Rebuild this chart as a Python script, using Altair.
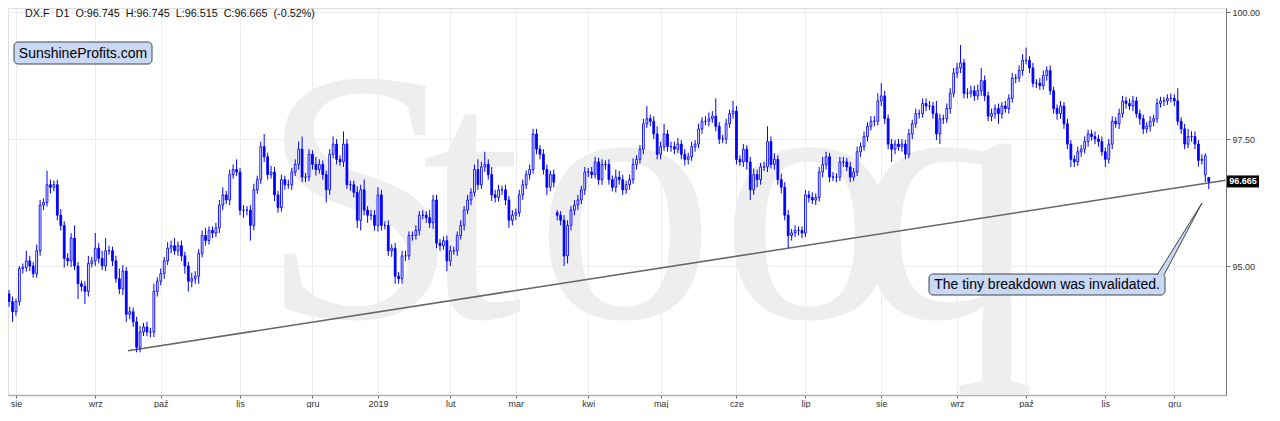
import altair as alt
import pandas as pd

# ---------------- data ----------------
closes = [
    94.30, 94.10, 94.30, 94.95, 94.97, 95.10, 95.00, 94.85, 95.30, 96.20,
    96.25, 96.60, 96.55, 96.60, 96.00, 95.80, 95.15, 95.10, 95.55, 95.00,
    94.65, 94.60, 94.50, 95.05, 95.10, 95.35, 95.15, 95.00, 95.30, 95.30,
    95.10, 94.75, 94.55, 94.90, 94.05, 94.10, 93.90, 93.40, 93.70, 93.80,
    93.70, 93.70, 94.50, 94.70, 94.85, 95.10, 95.35, 95.40, 95.30, 95.40,
    95.20, 95.00, 94.70, 94.75, 94.80, 95.25, 95.60, 95.50, 95.70, 95.65,
    95.75, 96.20, 96.40, 96.30, 96.80, 96.90, 96.85, 96.10, 96.10, 96.10,
    95.80, 96.50, 96.70, 97.35, 97.15, 96.80, 96.85, 96.40, 96.15, 96.70,
    96.60, 96.60, 96.85, 97.00, 97.30, 96.75, 96.75, 97.20, 97.00, 96.90,
    97.00, 96.80, 96.50, 97.20, 97.40, 97.10, 97.05, 97.40, 96.60, 96.60,
    96.45, 95.90, 96.50, 96.10, 96.00, 96.00, 95.80, 96.40, 95.80, 95.80,
    95.30, 95.35, 94.80, 94.75, 95.20, 95.20, 95.60, 95.60, 95.70, 96.00,
    96.00, 95.95, 95.85, 96.30, 95.45, 95.40, 95.50, 95.10, 95.30, 95.30,
    95.60, 95.80, 96.10, 96.30, 96.45, 96.90, 96.60, 96.95, 97.00, 96.80,
    96.40, 96.35, 96.50, 96.50, 96.30, 95.90, 96.00, 96.05, 96.40, 96.60,
    96.80, 96.90, 97.60, 97.30, 97.20, 96.90, 96.55, 96.80, 96.65, 96.00,
    95.90, 95.20, 95.80, 96.10, 96.20, 96.30, 96.50, 96.85, 96.85, 96.80,
    97.05, 96.70, 97.00, 97.00, 96.70, 96.55, 96.75, 96.70, 96.50, 96.60,
    96.70, 97.00, 97.10, 97.30, 97.80, 97.90, 97.85, 97.60, 97.20, 97.35,
    97.60, 97.35, 97.35, 97.30, 97.40, 97.20, 97.10, 97.15, 97.35, 97.40,
    97.70, 97.85, 97.85, 97.90, 97.95, 97.75, 97.50, 97.50, 97.80, 98.00,
    98.05, 97.10, 97.05, 97.30, 97.05, 96.50, 96.80, 96.70, 96.95, 96.95,
    97.45, 97.00, 97.10, 96.70, 96.55, 96.00, 95.60, 95.65, 95.70, 95.70,
    95.65, 96.40, 96.35, 96.30, 96.35, 96.85, 97.00, 97.15, 96.75, 96.75,
    96.75, 97.05, 97.05, 96.95, 96.75, 96.85, 97.25, 97.35, 97.55, 97.75,
    97.85, 97.85, 98.25, 98.35, 97.90, 97.40, 97.30, 97.40, 97.35, 97.40,
    97.20, 97.60, 97.80, 98.00, 98.00, 98.20, 98.15, 98.15, 98.00, 97.60,
    97.90, 97.90, 98.10, 98.40, 98.80, 98.90, 99.00, 98.40, 98.40, 98.45,
    98.35, 98.45, 98.65, 98.35, 97.95, 98.00, 98.10, 98.00, 98.15, 98.10,
    98.30, 98.70, 98.70, 98.85, 99.05, 99.05, 98.90, 98.60, 98.60, 98.55,
    98.75, 98.85, 98.45, 98.10, 98.00, 98.15, 97.80, 97.40, 97.10, 97.05,
    97.25, 97.30, 97.45, 97.60, 97.55, 97.50, 97.45, 97.25, 97.10, 97.40,
    97.85, 97.80, 98.00, 98.25, 98.20, 98.15, 98.25, 98.00, 97.90, 97.70,
    97.75, 97.85, 97.90, 98.20, 98.25, 98.25, 98.30, 98.30, 98.25, 97.85,
    97.70, 97.40, 97.55, 97.55, 97.40, 97.08, 97.10, 97.17, 96.665,
]

# upper / lower shadows beyond the body, in hundredths
up_wick = [
    8, 10, 6, 5, 8, 20, 10, 8, 12, 10, 8, 28, 10, 8, 10, 12, 8, 10, 10, 25,
    8, 6, 10, 15, 8, 30, 10, 15, 25, 10, 8, 10, 20, 12, 8, 10, 8, 10, 12, 8,
    10, 8, 15, 8, 10, 8, 12, 10, 15, 8, 10, 8, 8, 12, 10, 8, 10, 15, 8, 8,
    10, 10, 15, 8, 10, 10, 20, 8, 10, 8, 10, 12, 8, 10, 25, 8, 12, 10, 8, 10,
    8, 10, 8, 10, 15, 25, 8, 10, 8, 15, 10, 8, 8, 10, 15, 10, 8, 25, 10, 8,
    8, 12, 10, 20, 8, 10, 10, 15, 10, 8, 10, 8, 10, 8, 10, 10, 8, 8, 10, 8,
    10, 8, 15, 10, 10, 8, 8, 10, 10, 8, 8, 10, 8, 10, 8, 10, 20, 10, 25, 10,
    15, 10, 10, 8, 10, 8, 10, 8, 10, 10, 8, 10, 10, 10, 8, 10, 10, 8, 10, 5,
    8, 10, 10, 8, 10, 10, 8, 10, 8, 10, 10, 8, 10, 8, 10, 8, 15, 12, 10, 8,
    10, 12, 8, 8, 10, 25, 8, 10, 15, 10, 20, 8, 10, 10, 12, 8, 10, 8, 10, 8,
    10, 8, 10, 12, 10, 35, 8, 8, 10, 8, 20, 10, 8, 10, 8, 10, 12, 10, 8, 10,
    30, 10, 12, 8, 12, 10, 10, 8, 10, 8, 8, 10, 8, 10, 8, 10, 15, 10, 8, 10,
    8, 10, 10, 8, 10, 8, 10, 8, 10, 8, 10, 10, 15, 25, 10, 8, 10, 8, 10, 10,
    8, 10, 8, 10, 8, 10, 10, 10, 8, 25, 10, 8, 10, 10, 10, 10, 35, 8, 10, 10,
    10, 12, 25, 10, 8, 10, 8, 10, 8, 10, 8, 10, 8, 10, 12, 25, 8, 10, 8, 10,
    10, 8, 10, 8, 8, 10, 8, 10, 8, 8, 10, 8, 10, 8, 8, 10, 8, 10, 8, 10,
    10, 8, 10, 10, 8, 10, 10, 8, 8, 8, 8, 10, 8, 10, 8, 8, 8, 10, 8, 25,
    8, 10, 15, 10, 10, 8, 10, 5, 0,
]
dn_wick = [
    10, 20, 8, 8, 10, 8, 10, 8, 8, 10, 10, 8, 12, 8, 10, 10, 18, 10, 12, 8,
    30, 10, 25, 10, 8, 10, 10, 8, 10, 8, 10, 8, 10, 12, 15, 10, 10, 10, 10, 8,
    8, 10, 10, 10, 8, 10, 8, 10, 8, 10, 10, 15, 20, 12, 10, 15, 8, 10, 8, 10,
    8, 10, 10, 8, 10, 8, 8, 10, 15, 10, 30, 10, 8, 8, 10, 10, 8, 12, 10, 8,
    10, 8, 10, 8, 10, 10, 10, 8, 10, 12, 8, 10, 25, 10, 8, 10, 8, 10, 8, 12,
    10, 15, 20, 10, 15, 10, 10, 12, 10, 8, 10, 12, 15, 10, 10, 10, 8, 10, 8, 10,
    8, 10, 10, 12, 10, 10, 8, 20, 10, 8, 10, 8, 10, 8, 10, 8, 10, 8, 10, 10,
    12, 10, 8, 10, 10, 15, 10, 10, 8, 10, 8, 10, 8, 10, 10, 10, 15, 8, 10, 10,
    10, 20, 15, 10, 10, 10, 8, 10, 10, 8, 8, 10, 10, 10, 10, 8, 10, 10, 10, 8,
    10, 8, 10, 8, 10, 8, 10, 10, 10, 10, 8, 10, 10, 10, 8, 10, 12, 10, 8, 10,
    8, 10, 8, 10, 8, 10, 10, 8, 10, 8, 10, 10, 8, 10, 15, 20, 10, 15, 10, 8,
    10, 8, 10, 10, 12, 10, 25, 10, 8, 10, 10, 8, 10, 8, 10, 8, 10, 10, 10, 8,
    10, 8, 10, 8, 10, 8, 8, 10, 8, 10, 8, 10, 8, 10, 10, 10, 25, 10, 8, 10,
    10, 8, 10, 8, 10, 8, 10, 8, 10, 12, 20, 10, 8, 10, 8, 10, 10, 10, 10, 8,
    10, 8, 10, 10, 10, 10, 10, 20, 10, 8, 10, 8, 10, 8, 10, 8, 10, 8, 10, 8,
    8, 10, 8, 10, 12, 10, 10, 10, 15, 10, 8, 10, 8, 10, 8, 10, 10, 8, 15, 8,
    10, 8, 10, 8, 10, 8, 10, 8, 12, 10, 8, 10, 10, 8, 8, 10, 8, 8, 10, 8,
    10, 10, 8, 10, 10, 12, 8, 15, 15,
]
first_open = 94.45
gap_opens = {159: 96.05, 347: 96.80, 348: 96.745}

tick_index = [2, 25, 44, 67, 88, 107, 128, 147, 168, 189, 211, 231, 253, 275, 295, 318, 338]
tick_labels = ["sie", "wrz", "paź", "lis", "gru", "2019", "lut", "mar", "kwi",
               "maj", "cze", "lip", "sie", "wrz", "paź", "lis", "gru"]
y_ticks = [95.0, 97.5, 100.0]

trend_i = [34.5, 352.9]
trend_p = [93.33, 96.69]

last_price = [96.665]
pointer_i = [333.0, 335.0, 346.04]
pointer_lo = [94.823, 94.823, 96.24]
pointer_hi = [94.823, 95.04, 96.24]

NB = "\u00a0"
header = (NB * 2).join(["DX.F", "D1", "O:96.745", "H:96.745", "L:96.515",
                        "C:96.665", "(-0.52%)"])
brand = "SunshineProfits.com"
note = "The tiny breakdown was invalidated."
wm_letters = ["S", "t", "o", "o", "q"]
wm_centers = [360, 472, 625, 810, 946]   # watermark glyph centres (px)

# ---------------- build table ----------------
n = len(closes)
opens = [first_open] + closes[:-1]
for k, v in gap_opens.items():
    opens[k] = v
highs = [max(o, c) + u / 100 for o, c, u in zip(opens, closes, up_wick)]
lows = [min(o, c) - d / 100 for o, c, d in zip(opens, closes, dn_wick)]
highs[-1] = 96.745
lows[-1] = 96.515
df = pd.DataFrame({"i": list(range(n)), "o": opens, "c": closes, "h": highs, "l": lows})

W, H = 1218, 387
BLUE = "#0000ff"
FONT = "Liberation Sans"

label_expr = "[" + ",".join(f"'{t}'" for t in tick_labels) + "][indexof([" + \
    ",".join(str(v) for v in tick_index) + "], datum.value)]"

xscale = alt.Scale(domain=[-0.31, 353.0], nice=False, zero=False, padding=0)
yscale = alt.Scale(domain=[92.46, 100.08], nice=False, zero=False, padding=0)
xaxis = alt.Axis(values=tick_index, labelExpr=label_expr, title=None, grid=True,
                 gridColor="#ededed", domainColor="#b0b0b0", domainWidth=1.5,
                 tickColor="#666", tickSize=3, labelPadding=1, labelFontSize=9,
                 labelColor="#333", labelFont=FONT)
yaxis = alt.Axis(values=y_ticks, orient="right", format=".2f", title=None, grid=True,
                 gridColor="#ededed", domainColor="#777", tickColor="#666", tickSize=4,
                 labelPadding=2, labelFontSize=9, labelColor="#333", labelFont=FONT)


def X(f):
    return alt.X(f, type="quantitative", scale=xscale, axis=xaxis)


def Y(f):
    return alt.Y(f, type="quantitative", scale=yscale, axis=yaxis)


one = pd.DataFrame({"k": [0]})

wm_layers = [
    alt.Chart(pd.DataFrame({"ch": [ch]})).mark_text(
        font="Liberation Serif", fontSize=360, color="#eeeeee",
        align="center", baseline="alphabetic"
    ).encode(text="ch:N", x=alt.value(cx - 8), y=alt.value(309))
    for ch, cx in zip(wm_letters, wm_centers)
]

trend_df = pd.DataFrame({"i": trend_i, "p": trend_p})
trend = alt.Chart(trend_df).mark_line(color="#666666", strokeWidth=1.6).encode(
    x=X("i"), y=Y("p"))

wicks = alt.Chart(df).mark_rule(color=BLUE, strokeWidth=1).encode(
    x=X("i"), y=Y("l"), y2="h")
bodies = alt.Chart(df).mark_bar(size=1.8, stroke=BLUE, strokeWidth=0.9).encode(
    x=X("i"), y=Y("o"), y2="c",
    fill=alt.condition("datum.c >= datum.o", alt.value("#ffffff"), alt.value(BLUE)))

title = alt.Chart(one).mark_text(
    text=header, font=FONT, fontSize=10.8, color="#111", align="left",
    baseline="alphabetic").encode(x=alt.value(17), y=alt.value(8.5))

box_fill = "#c9d8f5"
brand_box = alt.Chart(one).mark_rect(
    fill=box_fill, stroke="#444", strokeWidth=1, cornerRadius=4).encode(
    x=alt.value(6), x2=alt.value(144), y=alt.value(34), y2=alt.value(56))
brand_txt = alt.Chart(one).mark_text(
    text=brand, font=FONT, fontSize=14, color="#000", align="center",
    baseline="middle").encode(x=alt.value(75), y=alt.value(45.5))

note_box = alt.Chart(one).mark_rect(
    fill=box_fill, stroke="#444", strokeWidth=1, cornerRadius=4).encode(
    x=alt.value(921), x2=alt.value(1157), y=alt.value(266), y2=alt.value(287))
pdf = pd.DataFrame({"i": pointer_i, "lo": pointer_lo, "hi": pointer_hi})
pointer_fill = alt.Chart(pdf).mark_area(color=box_fill, opacity=1).encode(
    x=X("i"), y=Y("lo"), y2="hi")
edges = pd.DataFrame({
    "i": [pointer_i[0], pointer_i[2], pointer_i[1], pointer_i[2]],
    "p": [pointer_lo[0], pointer_lo[2], pointer_lo[1], pointer_lo[2]],
    "e": ["a", "a", "b", "b"]})
pointer_edge = alt.Chart(edges).mark_line(color="#444", strokeWidth=1).encode(
    x=X("i"), y=Y("p"), detail="e")
note_txt = alt.Chart(one).mark_text(
    text=note, font=FONT, fontSize=14, color="#000", align="center",
    baseline="middle").encode(x=alt.value(1039), y=alt.value(277))

tag_df = pd.DataFrame({"p": last_price, "t": ["96.665"]})
tag_box = alt.Chart(tag_df).mark_rect(color="#000", yOffset=-6, y2Offset=6).encode(
    x=alt.value(1219), x2=alt.value(1251), y=Y("p"), y2="p")
tag_txt = alt.Chart(tag_df).mark_text(
    font=FONT, fontSize=9, fontWeight="bold", color="#fff", align="center",
    baseline="middle").encode(x=alt.value(1235), y=Y("p"), text="t")

chart = alt.layer(
    *wm_layers, trend, wicks, bodies, title, brand_box, brand_txt,
    note_box, pointer_fill, pointer_edge, note_txt, tag_box, tag_txt
).properties(
    width=W, height=H,
    autosize=alt.AutoSizeParams(type="none"),
    padding={"left": 0, "top": 0, "right": 38, "bottom": 13},
).configure_view(stroke=None).configure(background="white")

chart.save("out.html", embed_options={"renderer": "svg", "actions": False})
